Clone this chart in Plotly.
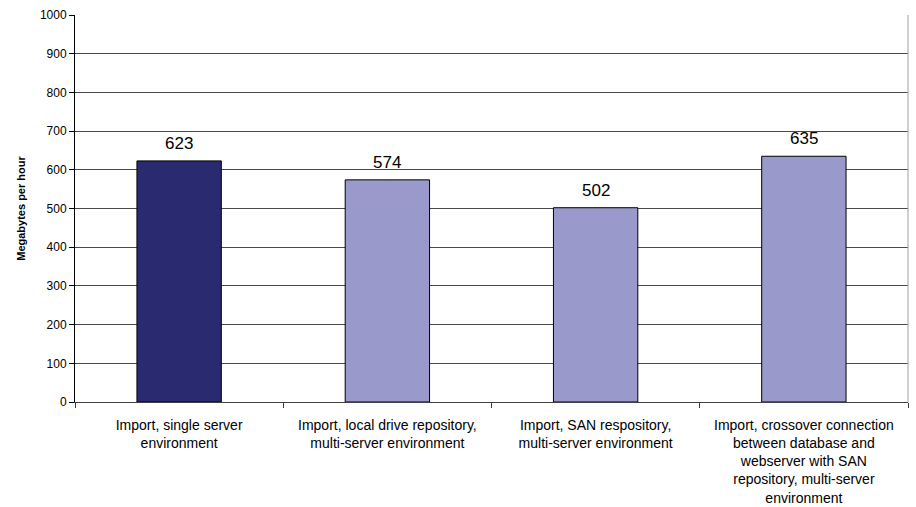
import plotly.graph_objects as go

# Import throughput by configuration
categories = [
    "Import, single server<br>environment",
    "Import, local drive repository,<br>multi-server environment",
    "Import, SAN respository,<br>multi-server environment",
    "Import, crossover connection<br>between database and<br>webserver with SAN<br>repository, multi-server<br>environment",
]
values = [623, 574, 502, 635]
bar_colors = ["#2a2a70", "#9999cc", "#9999cc", "#9999cc"]
y_ticks = list(range(0, 1001, 100))

FONT = "Liberation Sans, Arial, sans-serif"

fig = go.Figure()
fig.add_trace(go.Bar(
    x=categories,
    y=values,
    width=0.405,
    marker=dict(color=bar_colors, line=dict(color="#000000", width=1)),
    hoverinfo="x+y",
))

# value labels above each bar
for cat, val in zip(categories, values):
    fig.add_annotation(
        x=cat, y=val, text=str(val), showarrow=False,
        yanchor="bottom", yshift=6,
        font=dict(family=FONT, size=17, color="#000000"),
    )

# light right-hand border of the plot area
fig.add_shape(type="line", xref="paper", yref="paper",
              x0=1, x1=1, y0=0, y1=1,
              line=dict(color="#a0a0a0", width=1))

fig.update_layout(
    width=916, height=507,
    margin=dict(l=75, r=8, t=12, b=105),
    paper_bgcolor="#ffffff",
    plot_bgcolor="#ffffff",
    showlegend=False,
    bargap=0.6,
    font=dict(family=FONT, color="#000000"),
    xaxis=dict(
        type="category",
        range=[-0.5, 3.5],
        tickson="boundaries",
        ticks="outside", ticklen=5, tickcolor="#404040", tickwidth=1,
        ticklabelstandoff=10,
        automargin=False,
        showgrid=False,
        showline=True, linecolor="#404040", linewidth=1,
        tickfont=dict(family=FONT, size=14, color="#000000"),
        fixedrange=True,
    ),
    yaxis=dict(
        range=[0, 1000],
        tickvals=y_ticks,
        ticks="outside", ticklen=5, tickcolor="#000000", tickwidth=1,
        showgrid=True, gridcolor="#4a4a4a", gridwidth=1,
        zeroline=False,
        showline=True, linecolor="#000000", linewidth=1,
        tickfont=dict(family=FONT, size=12, color="#000000"),
        title=dict(text="<b>Megabytes per hour</b>",
                   font=dict(family=FONT, size=11, color="#000000"),
                   standoff=12),
        fixedrange=True,
    ),
)

fig.write_html("out.html")
